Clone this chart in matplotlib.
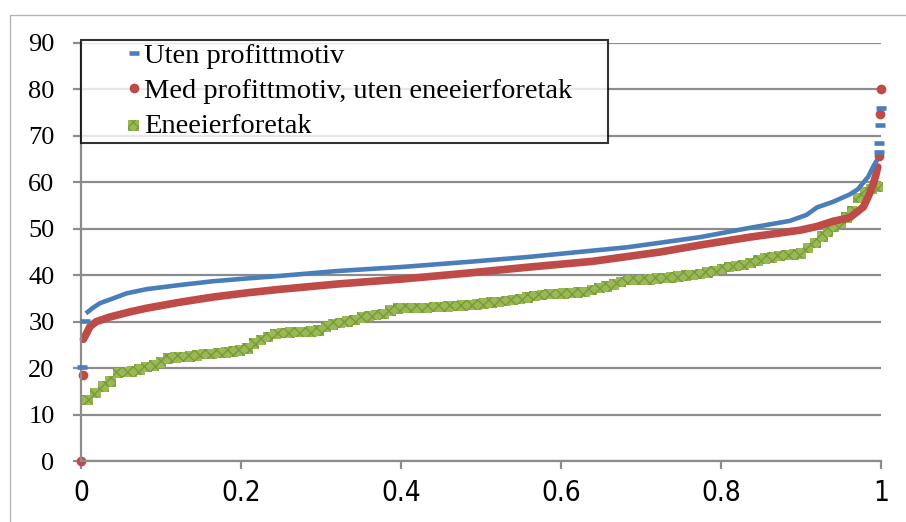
import matplotlib.pyplot as plt
from matplotlib.patches import Rectangle

# quantile position (share of firms) and value for each group
blue_x = [0.001, 0.005, 0.006, 0.010, 0.015, 0.024, 0.040, 0.057, 0.082, 0.124, 0.165, 0.207,
          0.245, 0.320, 0.403, 0.486, 0.557, 0.640, 0.682, 0.724, 0.774, 0.836, 0.886, 0.907,
          0.920, 0.940, 0.961, 0.971, 0.984, 0.990, 0.995, 0.997, 0.998, 0.999, 1.000]
blue_y = [20.2, 30.1, 31.8, 32.3, 33.0, 34.0, 35.0, 36.1, 37.0, 37.9, 38.7, 39.3,
          39.8, 40.9, 41.8, 42.9, 43.9, 45.3, 46.0, 47.0, 48.2, 50.2, 51.7, 53.0,
          54.6, 55.8, 57.4, 58.5, 61.2, 63.3, 64.8, 66.5, 68.5, 72.4, 76.0]

red_x = [0.000, 0.003, 0.003, 0.007, 0.011, 0.019, 0.036, 0.061, 0.082, 0.124, 0.165, 0.207,
         0.245, 0.320, 0.403, 0.486, 0.557, 0.640, 0.724, 0.774, 0.836, 0.899, 0.920, 0.940,
         0.961, 0.978, 0.984, 0.989, 0.993, 0.996, 0.997, 0.999, 1.000]
red_y = [0.0, 18.5, 26.2, 27.5, 28.9, 30.0, 31.0, 32.1, 32.9, 34.2, 35.3, 36.2,
         36.9, 38.1, 39.2, 40.5, 41.7, 43.0, 45.0, 46.5, 48.2, 49.7, 50.5, 51.6,
         52.4, 54.7, 56.9, 59.0, 61.2, 63.3, 65.7, 74.7, 80.0]

green_x = [0.008, 0.018, 0.028, 0.037, 0.046, 0.055, 0.064, 0.073, 0.082, 0.091, 0.100, 0.109,
           0.118, 0.127, 0.136, 0.145, 0.154, 0.163, 0.172, 0.181, 0.190, 0.199, 0.208, 0.216,
           0.225, 0.234, 0.243, 0.252, 0.261, 0.270, 0.279, 0.288, 0.297, 0.306, 0.315, 0.324,
           0.333, 0.342, 0.351, 0.360, 0.369, 0.378, 0.387, 0.396, 0.405, 0.414, 0.423, 0.432,
           0.441, 0.450, 0.459, 0.468, 0.477, 0.486, 0.495, 0.504, 0.513, 0.522, 0.531, 0.540,
           0.549, 0.558, 0.567, 0.576, 0.585, 0.594, 0.603, 0.612, 0.621, 0.630, 0.639, 0.648,
           0.657, 0.666, 0.675, 0.684, 0.693, 0.702, 0.711, 0.720, 0.729, 0.738, 0.747, 0.756,
           0.765, 0.774, 0.783, 0.792, 0.801, 0.810, 0.819, 0.828, 0.837, 0.846, 0.855, 0.864,
           0.873, 0.882, 0.891, 0.900, 0.909, 0.918, 0.927, 0.934, 0.941, 0.950, 0.957, 0.964,
           0.972, 0.980, 0.988, 0.996]
green_y = [13.1, 14.6, 16.0, 17.1, 18.9, 19.1, 19.3, 19.7, 20.2, 20.6, 21.2, 22.1,
           22.3, 22.4, 22.5, 22.7, 23.0, 23.1, 23.3, 23.4, 23.6, 23.8, 24.2, 25.3,
           26.0, 26.7, 27.4, 27.6, 27.7, 27.8, 27.8, 27.9, 28.1, 28.8, 29.4, 29.7,
           30.0, 30.4, 30.9, 31.2, 31.4, 31.6, 32.4, 32.8, 33.0, 33.0, 33.0, 33.0,
           33.1, 33.2, 33.3, 33.4, 33.5, 33.6, 33.7, 33.9, 34.1, 34.2, 34.5, 34.7,
           34.9, 35.2, 35.5, 35.7, 35.9, 36.0, 36.1, 36.2, 36.3, 36.4, 36.8, 37.3,
           37.6, 38.0, 38.6, 39.0, 39.0, 39.0, 39.1, 39.3, 39.4, 39.5, 39.7, 39.9,
           40.1, 40.3, 40.6, 40.9, 41.4, 41.8, 42.0, 42.2, 42.6, 43.2, 43.6, 43.8,
           44.1, 44.3, 44.5, 44.7, 45.9, 47.0, 48.3, 49.4, 50.5, 51.2, 52.4, 53.8,
           56.6, 57.8, 58.5, 59.0]

labels = ['Uten profittmotiv', 'Med profittmotiv, uten eneeierforetak', 'Eneeierforetak']
blue, red, green = '#4a7ebb', '#be4b48', '#98b954'
grid_col = '#8c8c8c'

fig = plt.figure(figsize=(9.06, 5.22), dpi=100)
ax = fig.add_axes([81/906, 1 - 461/522, 800/906, 418/522])

# outer chart border
fig.patches.append(Rectangle((10/906, -0.05), 1.0, 1 - 15/522 + 0.05, transform=fig.transFigure,
                             fill=False, edgecolor='#b4b4b4', lw=1.0))

ax.set_xlim(0, 1)
ax.set_ylim(0, 90)
ax.set_yticks(range(0, 91, 10))
ax.set_xticks([0, 0.2, 0.4, 0.6, 0.8, 1])
ax.set_xticklabels(['0', '0.2', '0.4', '0.6', '0.8', '1'])
ax.yaxis.grid(True, color=grid_col, lw=1.6)
ax.set_axisbelow(True)
for s in ['top', 'right']:
    ax.spines[s].set_visible(False)
for s in ['left', 'bottom']:
    ax.spines[s].set_color(grid_col)
    ax.spines[s].set_linewidth(1.6)
ax.tick_params(axis='both', direction='out', length=6, width=1.6, color=grid_col)
ax.tick_params(axis='y', pad=13)
ax.tick_params(axis='x', pad=7)
for t in ax.get_yticklabels():
    t.set_fontfamily('Liberation Serif')
    t.set_fontsize(19)
for t in ax.get_xticklabels():
    t.set_fontfamily(['Liberation Sans Narrow', 'DejaVu Sans Condensed', 'DejaVu Sans'])
    t.set_fontstretch('condensed')
    t.set_fontsize(20)

# dense body of each curve drawn as a thick stroke, edge points as markers
bb, be = 2, 31
ax.plot(blue_x[bb:be], blue_y[bb:be], color=blue, lw=3.3, solid_capstyle='butt', clip_on=False, zorder=3)
ax.plot(blue_x[:bb] + blue_x[be:], blue_y[:bb] + blue_y[be:], ls='none', marker='_', ms=7, mew=3.3,
        color=blue, clip_on=False, zorder=3, label=labels[0])
rb, re_ = 2, 30
ax.plot(red_x[rb:re_], red_y[rb:re_], color=red, lw=5.5, solid_capstyle='round', clip_on=False, zorder=2)
ax.plot(red_x[:rb] + red_x[re_:], red_y[:rb] + red_y[re_:], ls='none', marker='o', ms=6, color=red,
        clip_on=False, zorder=2, label=labels[1])
ax.scatter(green_x, green_y, marker='s', s=56, facecolor=green, edgecolor='#789a3a',
           linewidth=0, hatch='xxx', clip_on=False, zorder=1, label=labels[2])

leg = ax.legend(loc='upper left', bbox_to_anchor=(0, 1.008, 527/800, 0), mode='expand',
                prop={'family': 'Liberation Serif', 'size': 20.5},
                frameon=True, fancybox=False, borderpad=0.12, labelspacing=0.32,
                handlelength=3.45, handletextpad=-1.35, borderaxespad=0)
leg.get_frame().set_edgecolor('black')
leg.get_frame().set_linewidth(1.5)

fig.savefig('out.png', dpi=100)
